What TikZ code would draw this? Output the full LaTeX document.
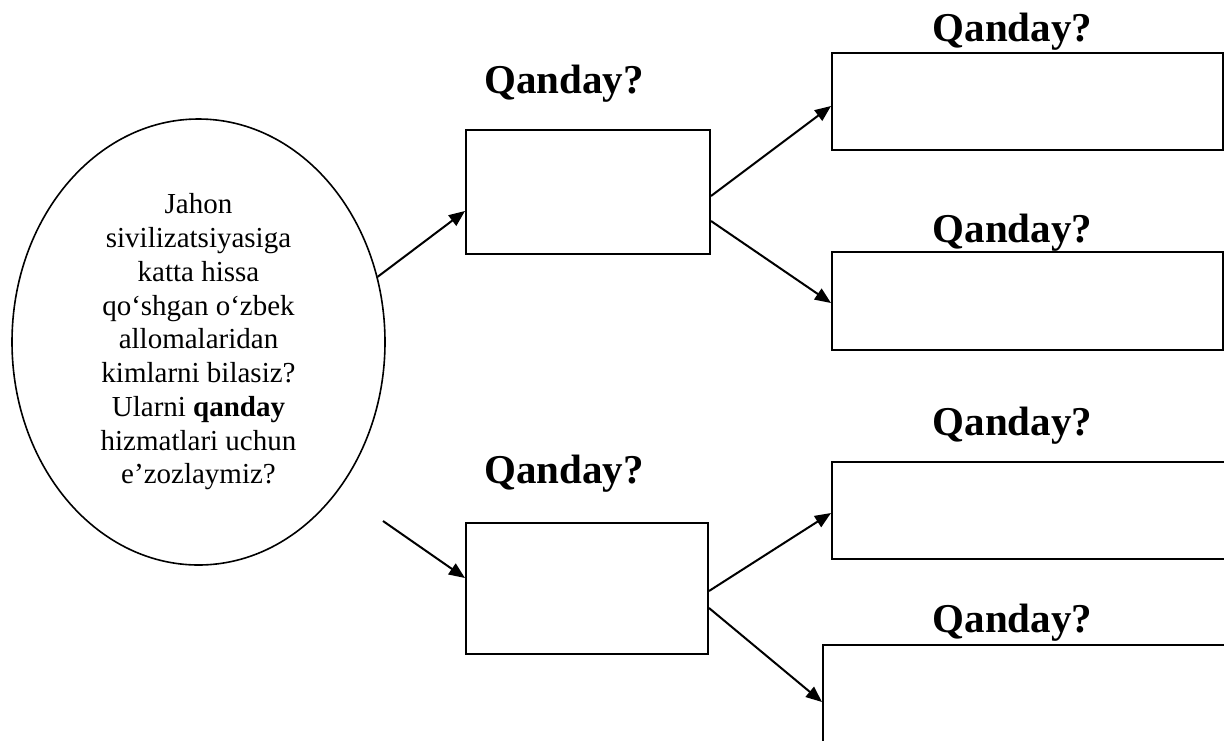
\documentclass[tikz,border=0pt]{standalone}
\usepackage{fontspec}
\setmainfont{Liberation Serif}
\usetikzlibrary{shapes.geometric,arrows.meta}
\begin{document}
\begin{tikzpicture}[x=1pt,y=-1pt,
  box/.style={draw,line width=2pt,rectangle,inner sep=0pt,anchor=north west},
  qlabel/.style={font=\fontsize{41}{48}\selectfont\bfseries,anchor=base,inner sep=0pt},
  conn/.style={line width=2pt,-{Triangle[length=16pt,width=13pt]}}]
\clip (0,0) rectangle (1224,740);
\useasboundingbox (0,0) rectangle (1224,740);
\fill[white] (0,0) rectangle (1224,740);
% central ellipse
\node[ellipse,draw,line width=1.6pt,minimum width=373pt,minimum height=446pt,inner sep=0pt,
  align=center,font=\fontsize{29}{33.75}\selectfont] (E) at (198.5,342)
  {Jahon\\sivilizatsiyasiga\\katta hissa\\qo‘shgan o‘zbek\\allomalaridan\\kimlarni bilasiz?\\Ularni \textbf{qanday}\\hizmatlari uchun\\e’zozlaymiz?};
% boxes
\node[box,minimum width=244pt,minimum height=124pt] (A) at (465,129) {};
\node[box,minimum width=242pt,minimum height=131pt] (B) at (465,522) {};
\node[box,minimum width=391pt,minimum height=97pt] (C) at (831,52) {};
\node[box,minimum width=391pt,minimum height=98pt] (D) at (831,251) {};
\node[box,minimum width=400pt,minimum height=97pt] (Ebox) at (831,461) {};
\node[box,minimum width=410pt,minimum height=120pt] (F) at (822,644) {};
% labels
\node[qlabel] (qa) at (564,93) {Qanday?};
\node[qlabel] (qb) at (564,483) {Qanday?};
\node[qlabel] (qc) at (1012.5,41) {Qanday?};
\node[qlabel] (qd) at (1012.5,242) {Qanday?};
\node[qlabel] (qe) at (1012.5,435) {Qanday?};
\node[qlabel] (qf) at (1012.5,632) {Qanday?};
% connectors
\coordinate (s2) at (383,521);
\draw[conn] (E.20) -- ([yshift=-19pt]A.west);
\draw[conn] (s2) -- ([yshift=10.5pt]B.west);
\draw[conn] ([yshift=-4pt]A.east) -- ([yshift=-4.5pt]C.west);
\draw[conn] ([yshift=-29pt]A.east) -- ([yshift=-2pt]D.west);
\draw[conn] ([yshift=-2.5pt]B.east) -- ([yshift=-2.5pt]Ebox.west);
\draw[conn] ([yshift=-19.5pt]B.east) -- ([yshift=-58pt]F.north west);
\end{tikzpicture}
\end{document}
